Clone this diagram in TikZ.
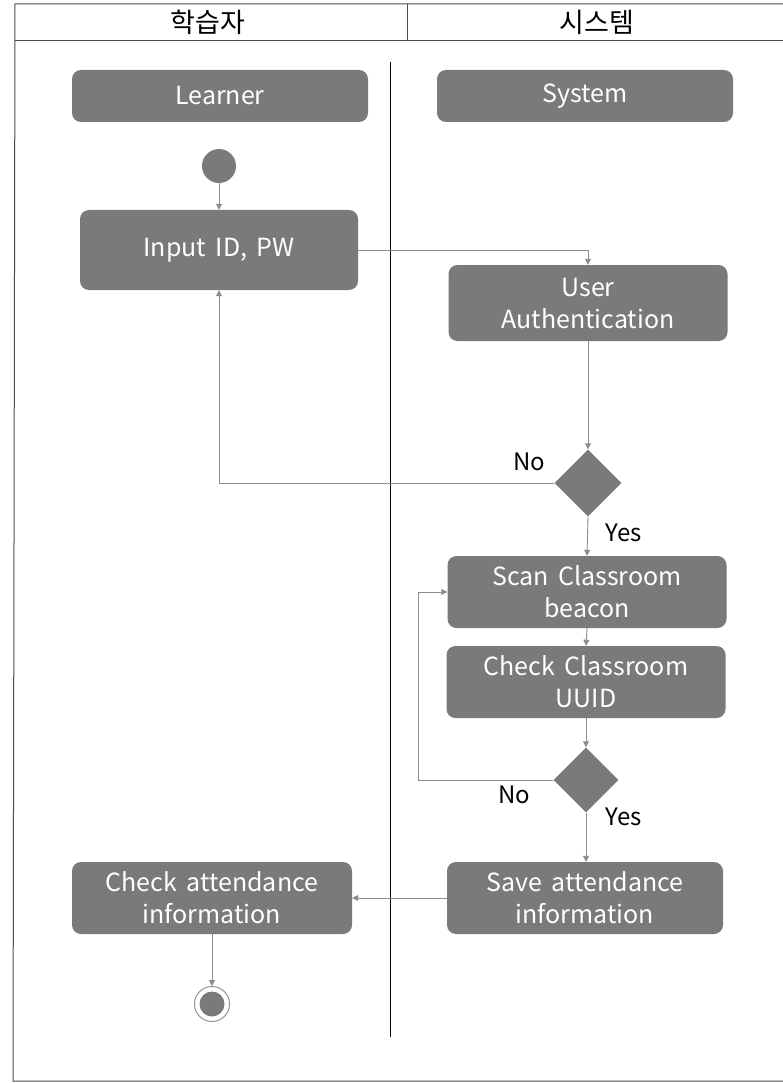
\documentclass[tikz,border=0pt]{standalone}
\usepackage{fontspec}
\setmainfont{Noto Sans CJK KR}
\usetikzlibrary{shapes.geometric,arrows.meta}
\definecolor{boxgray}{RGB}{122,122,122}
\definecolor{linegray}{RGB}{140,140,140}
\newcommand\widesp{\spaceskip=0.38em\relax}
\tikzset{
  act/.style={draw=none, fill=boxgray, rounded corners=9pt, text=white, align=center,
    inner sep=0pt, font=\fontsize{25}{32}\selectfont, execute at begin node=\widesp},
  dec/.style={diamond, fill=boxgray, draw=none, inner sep=0pt, aspect=1},
  flow/.style={draw=linegray, line width=0.9pt, -{Triangle[length=6pt,width=6pt]}},
  lbl/.style={font=\fontsize{24}{28}\selectfont, text=black},
  hdr/.style={font=\fontsize{27}{30}\selectfont, text=black}
}
\begin{document}
\begin{tikzpicture}[x=1pt,y=-1pt]
\useasboundingbox (0,0) rectangle (783,1083);
\fill[white] (0,0) rectangle (783,1083);
% frame and header
\draw[black!70, line width=1pt] (786,4) -- (15,4) -- (13,1081) -- (786,1081);
\draw[black!70, line width=1pt] (15,41) -- (786,41);
\draw[black!70, line width=1pt] (407,4) -- (407,41);
\node[hdr] (h1) at (208,22) {학습자};
\node[hdr] (h2) at (597,22) {시스템};
% swimlane divider
\draw[black, line width=1pt] (390,62) -- (390,1037);
% lane titles
\node[act, minimum width=296pt, minimum height=52pt] (learner) at (220,96) {Learner};
\node[act, minimum width=296pt, minimum height=52pt] (system) at (585,96) {System};
% nodes
\node[circle, fill=boxgray, minimum size=34pt, inner sep=0pt] (start) at (219,166) {};
\node[act, minimum width=278pt, minimum height=80pt] (input) at (219,250) {Input ID, PW};
\node[act, minimum width=279pt, minimum height=76pt] (auth) at (588,303) {User\\Authentication};
\node[dec, minimum width=67pt, minimum height=67pt] (d1) at (588,483) {};
\node[act, minimum width=279pt, minimum height=72pt] (scan) at (587,592) {Scan Classroom\\beacon};
\node[act, minimum width=279pt, minimum height=72pt] (uuid) at (586,682) {Check Classroom\\UUID};
\node[dec, minimum width=65pt, minimum height=65pt] (d2) at (586,780) {};
\node[act, minimum width=276pt, minimum height=72pt] (save) at (585,898) {Save attendance\\information};
\node[act, minimum width=280pt, minimum height=72pt] (chk) at (212,898) {Check attendance\\information};
\node[circle, draw=linegray, line width=0.9pt, fill=white, minimum size=35pt, inner sep=0pt] (end) at (212,1004) {};
\node[circle, fill=boxgray, minimum size=25pt, inner sep=0pt] (endin) at (end.center) {};
% labels
\node[lbl] (no1) at (529,462) {No};
\node[lbl] (yes1) at (624,533) {Yes};
\node[lbl] (no2) at (514,795) {No};
\node[lbl] (yes2) at (624,817) {Yes};
% connectors
\coordinate (nob) at (418,780);
\draw[flow] (start) -- (input);
\draw[flow] (input.east) -| (auth.north);
\draw[flow] (auth.south) -- (d1.north);
\draw[flow] (d1.west) -| (input.south);
\draw[flow] (d1.south) -- (scan.north);
\draw[flow] (scan.south) -- (uuid.north);
\draw[flow] (uuid.south) -- (d2.north);
\draw[flow] (d2.west) -- (nob) |- (scan.west);
\draw[flow] (d2.south) -- (save.north -| d2.south);
\draw[flow] (save.west) -- (chk.east);
\draw[flow] (chk.south) -- (end.north);
\end{tikzpicture}
\end{document}
